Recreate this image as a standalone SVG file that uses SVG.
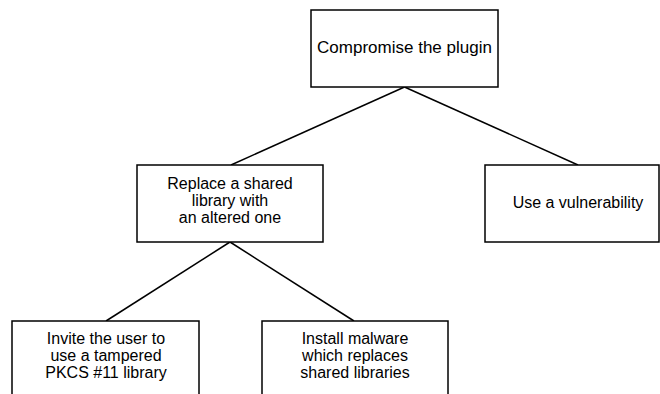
<svg xmlns="http://www.w3.org/2000/svg" width="660" height="394" viewBox="0 0 660 394">
  <style>
    .box { fill: #fff; stroke: #000; stroke-width: 1.5; }
    .edge { stroke: #000; stroke-width: 1.5; fill: none; }
    .label { font-family: "Liberation Sans", Arial, sans-serif; font-size: 16px; fill: #000; text-anchor: middle; }
    .title { font-size: 17px; }
  </style>
  <rect width="660" height="394" fill="#fff"/>

  <!-- connectors of the attack tree -->
  <g id="connectors">
    <line class="edge" x1="404.5" y1="87" x2="231" y2="165"/>
    <line class="edge" x1="404.5" y1="87" x2="578" y2="165"/>
    <line class="edge" x1="230" y1="242" x2="106" y2="321"/>
    <line class="edge" x1="230" y1="242" x2="354" y2="321"/>
  </g>

  <g id="root">
    <rect class="box" x="311" y="10" width="187" height="77"/>
    <text class="label title" x="404.5" y="53">Compromise the plugin</text>
  </g>

  <g id="replace-library">
    <rect class="box" x="137" y="165" width="186" height="77"/>
    <text class="label" x="230" y="189">Replace a shared</text>
    <text class="label" x="230" y="206">library with</text>
    <text class="label" x="230" y="223">an altered one</text>
  </g>

  <g id="vulnerability">
    <rect class="box" x="485" y="165" width="174" height="77"/>
    <text class="label" x="578" y="208">Use a vulnerability</text>
  </g>

  <g id="tampered-pkcs11">
    <rect class="box" x="12" y="321" width="187" height="90"/>
    <text class="label" x="106" y="344">Invite the user to</text>
    <text class="label" x="106" y="361">use a tampered</text>
    <text class="label" x="106" y="378">PKCS #11 library</text>
  </g>

  <g id="malware">
    <rect class="box" x="262" y="321" width="186" height="90"/>
    <text class="label" x="355" y="344">Install malware</text>
    <text class="label" x="355" y="361">which replaces</text>
    <text class="label" x="355" y="378">shared libraries</text>
  </g>
</svg>
